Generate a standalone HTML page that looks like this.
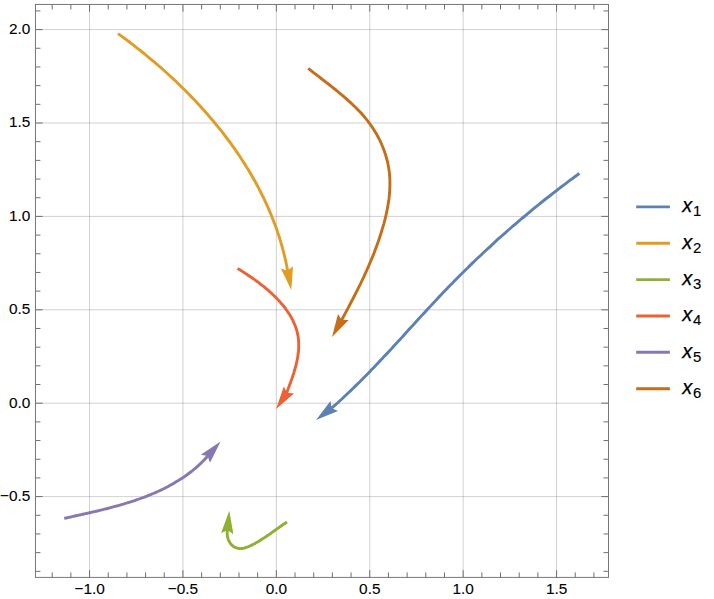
<!DOCTYPE html>
<html><head><meta charset="utf-8"><title>plot</title>
<style>html,body{margin:0;padding:0;background:#fff;}svg text{font-family:"Liberation Sans",sans-serif;stroke:#000;}.tk text{stroke-width:0.1px;}text.lg{stroke-width:0.25px;}body{width:714px;height:599px;position:relative;overflow:hidden;font-family:"Liberation Sans",sans-serif;}</style>
</head><body>
<svg width="714" height="599" viewBox="0 0 714 599" style="position:absolute;left:0;top:0">
<rect width="714" height="599" fill="#fff"/>
<path d="M89.55,4.45V577.4M182.95,4.45V577.4M276.35,4.45V577.4M369.75,4.45V577.4M463.15,4.45V577.4M556.55,4.45V577.4M35.45,496.60H608.5M35.45,403.20H608.5M35.45,309.80H608.5M35.45,216.40H608.5M35.45,123.00H608.5M35.45,29.60H608.5" stroke="#666" stroke-opacity="0.3" stroke-width="1" fill="none"/>
<path d="M579.4,173.4C578.5,174.2 575.5,176.3 573.5,177.8C571.5,179.2 569.6,180.7 567.6,182.1C565.7,183.6 563.7,185.0 561.8,186.5C559.8,188.0 557.9,189.5 556.0,191.0C554.0,192.5 552.1,194.0 550.2,195.5C548.3,197.0 546.3,198.5 544.4,200.0C542.5,201.5 540.6,203.0 538.7,204.6C536.8,206.1 534.9,207.6 533.0,209.2C531.2,210.7 529.3,212.3 527.4,213.8C525.5,215.4 523.7,217.0 521.8,218.5C519.9,220.1 518.1,221.7 516.2,223.3C514.4,224.9 512.5,226.4 510.7,228.0C508.9,229.6 507.0,231.2 505.2,232.9C503.4,234.5 501.6,236.1 499.8,237.7C497.9,239.3 496.1,241.0 494.3,242.6C492.5,244.3 490.7,245.9 489.0,247.6C487.2,249.2 485.4,250.9 483.6,252.5C481.8,254.2 480.1,255.9 478.3,257.5C476.5,259.2 474.8,260.9 473.0,262.6C471.3,264.3 469.5,266.0 467.8,267.7C466.0,269.4 464.3,271.1 462.6,272.8C460.8,274.5 459.1,276.3 457.4,278.0C455.7,279.7 454.0,281.4 452.3,283.2C450.6,284.9 448.9,286.7 447.2,288.4C445.5,290.2 443.8,291.9 442.1,293.7C440.4,295.5 438.8,297.3 437.1,299.0C435.4,300.8 433.8,302.6 432.1,304.4C430.5,306.2 428.8,307.9 427.1,309.7C425.5,311.5 423.8,313.3 422.2,315.1C420.5,316.9 418.9,318.7 417.2,320.5C415.6,322.3 414.0,324.1 412.3,325.9C410.7,327.7 409.0,329.5 407.4,331.3C405.7,333.1 404.1,334.9 402.5,336.7C400.8,338.5 399.2,340.3 397.5,342.1C395.9,343.9 394.2,345.7 392.6,347.5C390.9,349.3 389.3,351.1 387.6,352.9C385.9,354.6 384.3,356.4 382.6,358.2C380.9,360.0 379.3,361.7 377.6,363.5C375.9,365.3 374.2,367.0 372.5,368.8C370.8,370.5 369.2,372.3 367.5,374.0C365.7,375.8 364.0,377.5 362.3,379.2C360.6,381.0 358.9,382.7 357.1,384.4C355.4,386.1 353.7,387.8 351.9,389.5C350.2,391.2 348.4,392.8 346.6,394.5C344.8,396.2 343.1,397.8 341.3,399.5C339.5,401.1 337.7,402.8 335.9,404.4C334.0,406.0 331.3,408.4 330.4,409.2" stroke="#5E81B5" stroke-width="2.9" fill="none" stroke-linecap="butt" stroke-linejoin="round"/>
<path d="M316.0,420.0L330.5,401.1L331.5,408.1L338.0,410.9Z" fill="#5E81B5"/>
<path d="M118.0,33.6C118.8,34.2 121.4,36.0 123.0,37.3C124.7,38.5 126.4,39.8 128.1,41.0C129.8,42.3 131.4,43.6 133.1,44.9C134.8,46.2 136.4,47.5 138.1,48.8C139.8,50.1 141.4,51.4 143.1,52.7C144.7,54.1 146.4,55.4 148.0,56.8C149.6,58.1 151.3,59.5 152.9,60.9C154.5,62.2 156.2,63.6 157.8,65.0C159.4,66.4 161.0,67.8 162.6,69.2C164.2,70.7 165.8,72.1 167.4,73.5C169.0,75.0 170.5,76.4 172.1,77.9C173.7,79.3 175.2,80.8 176.8,82.3C178.3,83.8 179.9,85.3 181.4,86.8C182.9,88.3 184.5,89.8 186.0,91.3C187.5,92.8 189.0,94.3 190.5,95.9C192.0,97.4 193.5,99.0 195.0,100.5C196.4,102.1 197.9,103.7 199.4,105.2C200.8,106.8 202.2,108.4 203.7,110.0C205.1,111.6 206.5,113.2 207.9,114.8C209.3,116.5 210.7,118.1 212.1,119.7C213.5,121.4 214.9,123.0 216.2,124.7C217.6,126.3 218.9,128.0 220.3,129.7C221.6,131.3 222.9,133.0 224.2,134.7C225.5,136.4 226.8,138.1 228.1,139.8C229.4,141.6 230.6,143.3 231.9,145.0C233.1,146.8 234.4,148.5 235.6,150.3C236.8,152.0 238.0,153.8 239.2,155.5C240.4,157.3 241.6,159.1 242.7,160.9C243.9,162.7 245.0,164.5 246.1,166.3C247.3,168.1 248.4,169.9 249.5,171.7C250.5,173.5 251.6,175.4 252.7,177.2C253.7,179.1 254.8,180.9 255.8,182.8C256.8,184.6 257.8,186.5 258.8,188.4C259.8,190.3 260.7,192.2 261.7,194.1C262.6,196.0 263.6,197.9 264.5,199.8C265.4,201.7 266.3,203.6 267.1,205.5C268.0,207.5 268.8,209.4 269.7,211.4C270.5,213.3 271.3,215.3 272.1,217.2C272.9,219.2 273.6,221.2 274.4,223.1C275.1,225.1 275.9,227.1 276.6,229.1C277.3,231.1 277.9,233.1 278.6,235.1C279.3,237.2 279.9,239.2 280.5,241.2C281.1,243.2 281.7,245.3 282.3,247.3C282.8,249.4 283.4,251.4 283.9,253.5C284.4,255.6 284.9,257.6 285.4,259.7C285.9,261.8 286.3,263.9 286.7,266.0C287.2,268.1 287.7,271.2 287.9,272.3" stroke="#E19C24" stroke-width="2.9" fill="none" stroke-linecap="butt" stroke-linejoin="round"/>
<path d="M291.3,289.9L280.9,268.5L287.6,270.7L293.0,266.2Z" fill="#E19C24"/>
<path d="M287.0,522.0C286.7,522.2 286.0,522.7 285.5,523.0C285.0,523.3 284.5,523.7 284.0,524.0C283.5,524.3 283.0,524.7 282.5,525.0C282.0,525.3 281.6,525.7 281.1,526.0C280.6,526.3 280.1,526.7 279.7,527.0C279.2,527.3 278.7,527.7 278.3,528.0C277.8,528.3 277.3,528.6 276.9,529.0C276.4,529.3 275.9,529.6 275.5,530.0C275.0,530.3 274.6,530.6 274.1,530.9C273.7,531.3 273.2,531.6 272.7,531.9C272.3,532.2 271.8,532.6 271.4,532.9C270.9,533.2 270.5,533.5 270.0,533.9C269.5,534.2 269.1,534.5 268.6,534.8C268.2,535.1 267.7,535.5 267.2,535.8C266.8,536.1 266.3,536.4 265.8,536.7C265.4,537.0 264.9,537.4 264.4,537.7C263.9,538.0 263.5,538.3 263.0,538.6C262.5,538.9 262.0,539.2 261.5,539.5C261.0,539.9 260.5,540.2 260.0,540.5C259.5,540.8 259.0,541.1 258.5,541.4C258.0,541.7 257.5,542.0 256.9,542.3C256.4,542.6 255.9,542.9 255.4,543.2C254.8,543.5 254.3,543.8 253.7,544.1C253.2,544.4 252.6,544.7 252.1,545.0C251.5,545.2 250.9,545.5 250.4,545.8C249.8,546.1 249.2,546.3 248.7,546.5C248.1,546.8 247.5,547.0 247.0,547.2C246.4,547.4 245.8,547.6 245.3,547.8C244.7,547.9 244.1,548.1 243.6,548.2C243.0,548.3 242.5,548.4 241.9,548.5C241.4,548.6 240.8,548.6 240.3,548.6C239.7,548.6 239.2,548.6 238.7,548.5C238.2,548.5 237.7,548.4 237.2,548.2C236.7,548.1 236.2,547.9 235.7,547.7C235.2,547.5 234.7,547.2 234.3,547.0C233.8,546.7 233.4,546.4 233.0,546.0C232.5,545.7 232.1,545.3 231.7,544.9C231.4,544.5 231.0,544.1 230.6,543.7C230.3,543.2 230.0,542.8 229.7,542.3C229.4,541.8 229.1,541.3 228.8,540.8C228.6,540.2 228.4,539.7 228.2,539.2C228.0,538.6 227.8,538.0 227.7,537.5C227.5,536.9 227.4,536.3 227.3,535.7C227.3,535.1 227.2,534.5 227.2,533.9C227.2,533.3 227.2,532.7 227.2,532.1C227.3,531.5 227.3,530.9 227.4,530.4C227.5,529.8 227.7,528.9 227.8,528.7" stroke="#8FB032" stroke-width="2.9" fill="none" stroke-linecap="butt" stroke-linejoin="round"/>
<path d="M229.3,510.8L233.4,534.3L227.6,530.3L221.1,533.1Z" fill="#8FB032"/>
<path d="M237.6,268.4C238.0,268.7 239.3,269.5 240.2,270.0C241.0,270.6 241.9,271.1 242.8,271.7C243.7,272.2 244.6,272.8 245.4,273.4C246.3,274.0 247.2,274.6 248.1,275.2C249.0,275.8 249.9,276.4 250.8,277.0C251.7,277.6 252.6,278.2 253.5,278.9C254.4,279.5 255.3,280.1 256.2,280.8C257.1,281.5 258.0,282.1 258.9,282.8C259.7,283.5 260.6,284.1 261.5,284.8C262.4,285.5 263.3,286.2 264.2,286.9C265.0,287.7 265.9,288.4 266.8,289.1C267.6,289.8 268.5,290.6 269.3,291.3C270.2,292.1 271.0,292.8 271.8,293.6C272.6,294.4 273.5,295.1 274.3,295.9C275.1,296.7 275.9,297.5 276.6,298.3C277.4,299.1 278.2,299.9 278.9,300.7C279.7,301.5 280.4,302.4 281.1,303.2C281.9,304.0 282.6,304.9 283.3,305.7C284.0,306.6 284.6,307.5 285.3,308.3C286.0,309.2 286.6,310.1 287.2,311.0C287.8,311.9 288.4,312.8 289.0,313.7C289.6,314.6 290.1,315.5 290.7,316.4C291.2,317.3 291.7,318.3 292.2,319.2C292.7,320.2 293.2,321.1 293.6,322.1C294.0,323.0 294.5,324.0 294.9,325.0C295.2,325.9 295.6,326.9 295.9,327.9C296.3,328.9 296.6,329.9 296.9,330.9C297.1,331.9 297.4,332.9 297.6,334.0C297.8,335.0 298.0,336.0 298.2,337.1C298.3,338.1 298.4,339.2 298.5,340.2C298.6,341.3 298.7,342.4 298.7,343.4C298.7,344.5 298.7,345.6 298.7,346.7C298.7,347.8 298.6,348.8 298.6,349.9C298.5,351.0 298.4,352.1 298.2,353.2C298.1,354.3 298.0,355.4 297.8,356.5C297.6,357.6 297.4,358.7 297.2,359.8C297.0,360.9 296.8,362.0 296.5,363.0C296.3,364.1 296.0,365.2 295.7,366.3C295.4,367.4 295.1,368.4 294.8,369.5C294.5,370.6 294.2,371.6 293.9,372.7C293.5,373.8 293.2,374.8 292.9,375.8C292.5,376.9 292.2,377.9 291.8,379.0C291.4,380.0 291.1,381.0 290.7,382.1C290.3,383.1 289.9,384.1 289.6,385.1C289.2,386.2 288.8,387.2 288.4,388.2C288.1,389.2 287.7,390.2 287.3,391.2C287.0,392.2 286.4,393.7 286.2,394.2" stroke="#EB6235" stroke-width="2.9" fill="none" stroke-linecap="butt" stroke-linejoin="round"/>
<path d="M276.1,409.1L283.8,386.6L287.0,392.8L294.0,393.4Z" fill="#EB6235"/>
<path d="M64.2,518.4C64.7,518.3 66.3,517.9 67.4,517.7C68.5,517.4 69.6,517.2 70.7,517.0C71.8,516.7 72.8,516.5 73.9,516.2C75.0,516.0 76.1,515.8 77.2,515.5C78.3,515.3 79.4,515.0 80.5,514.8C81.6,514.5 82.8,514.3 83.9,514.0C85.0,513.8 86.1,513.5 87.2,513.3C88.3,513.0 89.4,512.8 90.5,512.5C91.6,512.3 92.8,512.0 93.9,511.7C95.0,511.5 96.1,511.2 97.2,511.0C98.3,510.7 99.5,510.4 100.6,510.1C101.7,509.9 102.8,509.6 103.9,509.3C105.0,509.0 106.2,508.8 107.3,508.5C108.4,508.2 109.5,507.9 110.6,507.6C111.7,507.3 112.9,507.0 114.0,506.7C115.1,506.4 116.2,506.1 117.3,505.8C118.4,505.5 119.5,505.2 120.7,504.8C121.8,504.5 122.9,504.2 124.0,503.9C125.1,503.5 126.2,503.2 127.3,502.9C128.4,502.5 129.5,502.2 130.6,501.8C131.7,501.5 132.8,501.1 133.9,500.8C135.0,500.4 136.1,500.0 137.2,499.6C138.3,499.3 139.3,498.9 140.4,498.5C141.5,498.1 142.6,497.7 143.7,497.3C144.7,496.9 145.8,496.5 146.9,496.1C147.9,495.7 149.0,495.2 150.1,494.8C151.1,494.4 152.2,493.9 153.2,493.5C154.3,493.1 155.3,492.6 156.4,492.1C157.4,491.7 158.5,491.2 159.5,490.7C160.5,490.2 161.5,489.8 162.6,489.3C163.6,488.8 164.6,488.3 165.6,487.7C166.6,487.2 167.6,486.7 168.6,486.2C169.6,485.6 170.6,485.1 171.6,484.5C172.6,484.0 173.6,483.4 174.6,482.9C175.5,482.3 176.5,481.7 177.5,481.1C178.4,480.5 179.4,479.9 180.4,479.3C181.3,478.7 182.2,478.1 183.2,477.5C184.1,476.8 185.0,476.2 186.0,475.5C186.9,474.9 187.8,474.2 188.7,473.5C189.6,472.8 190.5,472.2 191.4,471.5C192.3,470.8 193.2,470.0 194.0,469.3C194.9,468.6 195.8,467.9 196.6,467.1C197.5,466.4 198.3,465.6 199.2,464.8C200.0,464.1 200.8,463.3 201.6,462.5C202.5,461.7 203.3,460.9 204.1,460.0C204.9,459.2 205.7,458.4 206.4,457.5C207.2,456.7 208.4,455.4 208.8,454.9" stroke="#8778B3" stroke-width="2.9" fill="none" stroke-linecap="butt" stroke-linejoin="round"/>
<path d="M220.6,441.5L210.0,462.8L207.6,456.1L200.8,454.7Z" fill="#8778B3"/>
<path d="M308.2,68.4C309.0,69.0 311.3,70.9 312.9,72.1C314.5,73.4 316.1,74.6 317.8,75.9C319.4,77.1 321.0,78.4 322.7,79.7C324.4,80.9 326.0,82.2 327.7,83.5C329.4,84.8 331.0,86.1 332.7,87.5C334.4,88.8 336.1,90.1 337.7,91.5C339.4,92.9 341.0,94.2 342.7,95.6C344.3,97.0 345.9,98.4 347.5,99.9C349.1,101.3 350.7,102.7 352.3,104.2C353.8,105.7 355.4,107.2 356.9,108.7C358.4,110.2 359.8,111.8 361.3,113.3C362.7,114.9 364.1,116.5 365.4,118.1C366.8,119.7 368.1,121.4 369.3,123.1C370.6,124.7 371.8,126.4 372.9,128.2C374.0,129.9 375.1,131.7 376.2,133.5C377.2,135.3 378.2,137.1 379.1,138.9C380.1,140.7 380.9,142.6 381.7,144.5C382.6,146.4 383.3,148.3 384.0,150.2C384.7,152.1 385.4,154.0 385.9,156.0C386.5,157.9 387.0,159.9 387.5,161.9C388.0,163.9 388.3,165.9 388.7,167.9C389.0,169.9 389.3,171.9 389.5,174.0C389.7,176.0 389.8,178.1 389.9,180.1C389.9,182.2 389.9,184.2 389.9,186.3C389.8,188.4 389.7,190.4 389.6,192.5C389.4,194.6 389.2,196.7 389.0,198.7C388.7,200.8 388.4,202.9 388.0,205.0C387.7,207.1 387.3,209.1 386.9,211.2C386.4,213.3 386.0,215.4 385.5,217.4C385.0,219.5 384.4,221.6 383.9,223.6C383.3,225.7 382.7,227.7 382.1,229.7C381.5,231.8 380.9,233.8 380.2,235.8C379.5,237.8 378.9,239.8 378.2,241.8C377.5,243.8 376.8,245.8 376.0,247.8C375.3,249.8 374.5,251.7 373.8,253.7C373.0,255.6 372.2,257.6 371.4,259.5C370.6,261.5 369.8,263.4 368.9,265.3C368.1,267.3 367.3,269.2 366.4,271.1C365.5,273.0 364.7,274.9 363.8,276.8C362.9,278.7 362.0,280.6 361.1,282.5C360.2,284.3 359.3,286.2 358.3,288.1C357.4,290.0 356.5,291.8 355.5,293.7C354.6,295.6 353.6,297.4 352.7,299.3C351.7,301.1 350.7,303.0 349.8,304.8C348.8,306.7 347.8,308.5 346.8,310.4C345.8,312.2 344.9,314.1 343.9,315.9C342.9,317.7 341.4,320.5 340.9,321.4" stroke="#C56E1A" stroke-width="2.9" fill="none" stroke-linecap="butt" stroke-linejoin="round"/>
<path d="M332.0,337.0L338.0,314.0L341.7,320.0L348.7,320.0Z" fill="#C56E1A"/>
<rect x="35.45" y="4.45" width="573.05" height="572.95" fill="none" stroke="#777" stroke-width="1"/>
<path d="M52.19,577.4v-5.0M52.19,4.45v5.0M70.87,577.4v-5.0M70.87,4.45v5.0M89.55,577.4v-7.2M89.55,4.45v7.2M108.23,577.4v-5.0M108.23,4.45v5.0M126.91,577.4v-5.0M126.91,4.45v5.0M145.59,577.4v-5.0M145.59,4.45v5.0M164.27,577.4v-5.0M164.27,4.45v5.0M182.95,577.4v-7.2M182.95,4.45v7.2M201.63,577.4v-5.0M201.63,4.45v5.0M220.31,577.4v-5.0M220.31,4.45v5.0M238.99,577.4v-5.0M238.99,4.45v5.0M257.67,577.4v-5.0M257.67,4.45v5.0M276.35,577.4v-7.2M276.35,4.45v7.2M295.03,577.4v-5.0M295.03,4.45v5.0M313.71,577.4v-5.0M313.71,4.45v5.0M332.39,577.4v-5.0M332.39,4.45v5.0M351.07,577.4v-5.0M351.07,4.45v5.0M369.75,577.4v-7.2M369.75,4.45v7.2M388.43,577.4v-5.0M388.43,4.45v5.0M407.11,577.4v-5.0M407.11,4.45v5.0M425.79,577.4v-5.0M425.79,4.45v5.0M444.47,577.4v-5.0M444.47,4.45v5.0M463.15,577.4v-7.2M463.15,4.45v7.2M481.83,577.4v-5.0M481.83,4.45v5.0M500.51,577.4v-5.0M500.51,4.45v5.0M519.19,577.4v-5.0M519.19,4.45v5.0M537.87,577.4v-5.0M537.87,4.45v5.0M556.55,577.4v-7.2M556.55,4.45v7.2M575.23,577.4v-5.0M575.23,4.45v5.0M593.91,577.4v-5.0M593.91,4.45v5.0M35.45,571.32h5.0M608.5,571.32h-5.0M35.45,552.64h5.0M608.5,552.64h-5.0M35.45,533.96h5.0M608.5,533.96h-5.0M35.45,515.28h5.0M608.5,515.28h-5.0M35.45,496.60h7.2M608.5,496.60h-7.2M35.45,477.92h5.0M608.5,477.92h-5.0M35.45,459.24h5.0M608.5,459.24h-5.0M35.45,440.56h5.0M608.5,440.56h-5.0M35.45,421.88h5.0M608.5,421.88h-5.0M35.45,403.20h7.2M608.5,403.20h-7.2M35.45,384.52h5.0M608.5,384.52h-5.0M35.45,365.84h5.0M608.5,365.84h-5.0M35.45,347.16h5.0M608.5,347.16h-5.0M35.45,328.48h5.0M608.5,328.48h-5.0M35.45,309.80h7.2M608.5,309.80h-7.2M35.45,291.12h5.0M608.5,291.12h-5.0M35.45,272.44h5.0M608.5,272.44h-5.0M35.45,253.76h5.0M608.5,253.76h-5.0M35.45,235.08h5.0M608.5,235.08h-5.0M35.45,216.40h7.2M608.5,216.40h-7.2M35.45,197.72h5.0M608.5,197.72h-5.0M35.45,179.04h5.0M608.5,179.04h-5.0M35.45,160.36h5.0M608.5,160.36h-5.0M35.45,141.68h5.0M608.5,141.68h-5.0M35.45,123.00h7.2M608.5,123.00h-7.2M35.45,104.32h5.0M608.5,104.32h-5.0M35.45,85.64h5.0M608.5,85.64h-5.0M35.45,66.96h5.0M608.5,66.96h-5.0M35.45,48.28h5.0M608.5,48.28h-5.0M35.45,29.60h7.2M608.5,29.60h-7.2M35.45,10.92h5.0M608.5,10.92h-5.0" stroke="#707070" stroke-width="1" fill="none"/>
<g class="tk" font-size="15.4" fill="#000">
<text x="89.6" y="594.3" text-anchor="middle">−1.0</text>
<text x="183.0" y="594.3" text-anchor="middle">−0.5</text>
<text x="276.4" y="594.3" text-anchor="middle">0.0</text>
<text x="369.8" y="594.3" text-anchor="middle">0.5</text>
<text x="463.2" y="594.3" text-anchor="middle">1.0</text>
<text x="556.6" y="594.3" text-anchor="middle">1.5</text>
<text x="30.3" y="501.0" text-anchor="end">−0.5</text>
<text x="30.3" y="407.6" text-anchor="end">0.0</text>
<text x="30.3" y="314.2" text-anchor="end">0.5</text>
<text x="30.3" y="220.8" text-anchor="end">1.0</text>
<text x="30.3" y="127.4" text-anchor="end">1.5</text>
<text x="30.3" y="34.0" text-anchor="end">2.0</text>
</g>
<path d="M636.2,206.9H669.9" stroke="#5E81B5" stroke-width="2.9"/>
<text class="lg" x="682.3" y="212.2" font-size="20" font-style="italic" fill="#000">x<tspan font-style="normal" font-size="14.9" dx="0.6" dy="3.9" style="stroke-width:0.15px">1</tspan></text>
<path d="M636.2,243.3H669.9" stroke="#E19C24" stroke-width="2.9"/>
<text class="lg" x="682.3" y="248.6" font-size="20" font-style="italic" fill="#000">x<tspan font-style="normal" font-size="14.9" dx="0.6" dy="3.9" style="stroke-width:0.15px">2</tspan></text>
<path d="M636.2,279.6H669.9" stroke="#8FB032" stroke-width="2.9"/>
<text class="lg" x="682.3" y="284.9" font-size="20" font-style="italic" fill="#000">x<tspan font-style="normal" font-size="14.9" dx="0.6" dy="3.9" style="stroke-width:0.15px">3</tspan></text>
<path d="M636.2,316.0H669.9" stroke="#EB6235" stroke-width="2.9"/>
<text class="lg" x="682.3" y="321.3" font-size="20" font-style="italic" fill="#000">x<tspan font-style="normal" font-size="14.9" dx="0.6" dy="3.9" style="stroke-width:0.15px">4</tspan></text>
<path d="M636.2,352.3H669.9" stroke="#8778B3" stroke-width="2.9"/>
<text class="lg" x="682.3" y="357.6" font-size="20" font-style="italic" fill="#000">x<tspan font-style="normal" font-size="14.9" dx="0.6" dy="3.9" style="stroke-width:0.15px">5</tspan></text>
<path d="M636.2,388.7H669.9" stroke="#C56E1A" stroke-width="2.9"/>
<text class="lg" x="682.3" y="394.0" font-size="20" font-style="italic" fill="#000">x<tspan font-style="normal" font-size="14.9" dx="0.6" dy="3.9" style="stroke-width:0.15px">6</tspan></text>
</svg>
</body></html>
